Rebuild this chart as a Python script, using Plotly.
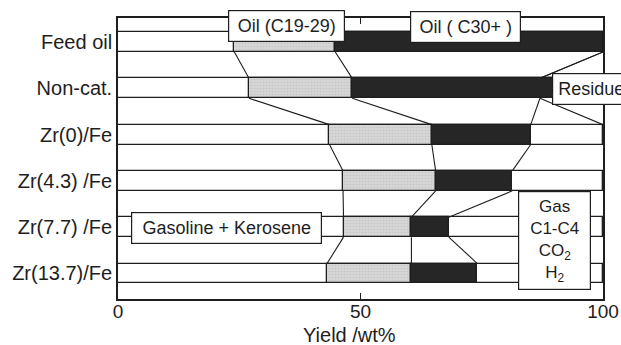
import plotly.graph_objects as go

# Product distribution per run (cumulative wt% boundaries, left to right)
rows = ["Feed oil", "Non-cat.", "Zr(0)/Fe", "Zr(4.3) /Fe", "Zr(7.7) /Fe", "Zr(13.7)/Fe"]
light_end = [24.0, 27.0, 43.6, 46.4, 46.5, 43.1]      # gasoline + kerosene (from 0)
c19_29_end = [44.8, 48.3, 64.7, 65.5, 60.5, 60.5]     # oil C19-29
c30_end = [100.0, 87.0, 85.1, 81.3, 68.2, 74.1]       # oil C30+
residue = [0.0, 13.0, 0.0, 0.0, 0.0, 0.0]             # residue (at the right end)
x_ticks = [0, 50, 100]

FONT = "Liberation Sans, Arial, Helvetica, sans-serif"
INK = "#1e1e1e"
GREY = "#d6d6d6"
DARK = "#262626"
BAR_W = 0.43
pos = list(range(len(rows)))

fig = go.Figure()

# full-width outlined row frames
fig.add_trace(go.Bar(
    y=pos, x=[100] * len(rows), base=[0] * len(rows), orientation="h", width=BAR_W,
    marker=dict(color="white", line=dict(color=INK, width=1.3)),
    hoverinfo="skip", showlegend=False))

# oil C19-29 segments
fig.add_trace(go.Bar(
    y=pos, x=[b - a for a, b in zip(light_end, c19_29_end)], base=light_end,
    orientation="h", width=BAR_W,
    marker=dict(color=GREY, line=dict(color=INK, width=1.3),
                pattern=dict(shape=".", fgcolor="#b4b4b4", bgcolor=GREY, size=3, solidity=0.25)),
    hoverinfo="skip", showlegend=False))

# oil C30+ and residue segments
heavy_end = [c + r for c, r in zip(c30_end, residue)]
fig.add_trace(go.Bar(
    y=pos, x=[b - a for a, b in zip(c19_29_end, heavy_end)], base=c19_29_end,
    orientation="h", width=BAR_W,
    marker=dict(color=DARK, line=dict(color=INK, width=1.3)),
    hoverinfo="skip", showlegend=False))

# connectors between neighbouring rows for each boundary
residue_start = [100 - r for r in residue]
half = BAR_W / 2
for series in (light_end, c19_29_end, c30_end):
    for i in range(len(rows) - 1):
        fig.add_trace(go.Scatter(
            x=[series[i], series[i + 1]], y=[i + half, i + 1 - half],
            mode="lines", line=dict(color=INK, width=1.1),
            hoverinfo="skip", showlegend=False))
for i in range(len(rows) - 1):
    if residue[i] > 0 or residue[i + 1] > 0:
        fig.add_trace(go.Scatter(
            x=[residue_start[i], residue_start[i + 1]], y=[i + half, i + 1 - half],
            mode="lines", line=dict(color=INK, width=1.1),
            hoverinfo="skip", showlegend=False))

box = dict(xref="paper", yref="paper", showarrow=False, bgcolor="white",
           bordercolor=INK, borderwidth=1.2, borderpad=0,
           xanchor="center", yanchor="middle",
           font=dict(family=FONT, size=18, color=INK))
annotations = [
    dict(text="Oil (C19-29)", x=0.3474, y=0.9715, width=115, height=30, **box),
    dict(text="Oil ( C30+ )", x=0.7165, y=0.968, width=109, height=30, **box),
    dict(text=" Residue", x=0.8948, y=0.747, width=90, height=30,
         align="left", **{**box, "xanchor": "left"}),
    dict(text="Gasoline + Kerosene", x=0.2237, y=0.2527, width=189, height=30, **box),
    dict(text="Gas<br>C1-C4<br>CO<sub>2</sub><br>H<sub>2</sub>", x=0.9, y=0.208,
         width=71, height=97, **{**box, "font": dict(family=FONT, size=17, color=INK)}),
    dict(text="Yield /wt%", x=0.478, y=-0.127, xref="paper", yref="paper",
         xanchor="center", yanchor="middle",
         showarrow=False, font=dict(family=FONT, size=20, color=INK)),
]

fig.update_layout(
    width=621, height=345,
    margin=dict(l=118, r=18, t=18, b=46),
    paper_bgcolor="white", plot_bgcolor="white",
    barmode="overlay", bargap=0,
    annotations=annotations,
    font=dict(family=FONT, color=INK),
)
fig.update_xaxes(
    range=[0, 100], tickvals=x_ticks, ticktext=[str(v) for v in x_ticks],
    ticks="inside", ticklen=6, tickwidth=1.2, tickcolor=INK,
    showline=True, linecolor=INK, linewidth=1.6, mirror="ticks",
    showgrid=False, zeroline=False, automargin=False, ticklabelstandoff=-6,
    tickfont=dict(size=19, color=INK, family=FONT))
fig.update_yaxes(
    range=[5.551, -0.518], tickvals=pos, ticktext=rows, ticks="",
    showline=True, linecolor=INK, linewidth=1.6, mirror=True,
    showgrid=False, zeroline=False, automargin=False,
    tickfont=dict(size=20, color=INK, family=FONT))

fig.write_html("out.html")
